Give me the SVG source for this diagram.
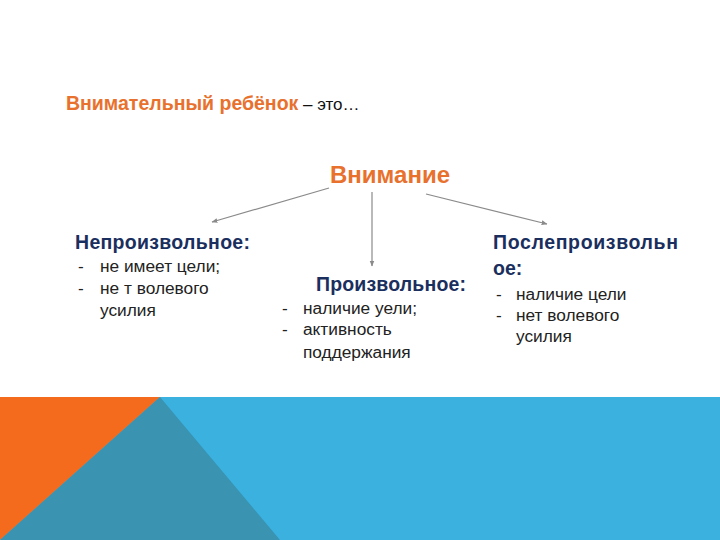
<svg xmlns="http://www.w3.org/2000/svg" width="720" height="540" viewBox="0 0 720 540">
<defs>
<style>
.t{font-family:"Liberation Sans",Arial,sans-serif}
.o{fill:#E8712D;font-weight:bold}
.h{fill:#1B2F5E;font-weight:bold;font-size:19.5px}
.l{fill:#222;font-size:17.3px}
.c{stroke:#8A8A8A;stroke-width:1.2;fill:none;marker-end:url(#a)}
</style>
<marker id="a" viewBox="0 0 10 10" refX="9" refY="5" markerWidth="6" markerHeight="6" orient="auto" markerUnits="userSpaceOnUse">
<path d="M0,1 L10,5 L0,9 Z" fill="#8A8A8A"/>
</marker>
</defs>
<rect width="720" height="540" fill="#fff"/>
<g id="band">
<rect x="0" y="397" width="720" height="143" fill="#3BB1E0"/>
<polygon points="0,397 160,397 0,540" fill="#F46B1E"/>
<polygon points="160,397 280,540 0,540" fill="#3993B1"/>
</g>
<g id="title" class="t">
<text x="66" y="110" font-size="19.5"><tspan class="o">Внимательный ребёнок</tspan><tspan fill="#111" font-size="17"> – это…</tspan></text>
</g>
<g id="root" class="t">
<text x="390" y="183" text-anchor="middle" font-size="24" class="o">Внимание</text>
</g>
<g id="connectors">
<line class="c" x1="329" y1="188" x2="212" y2="222"/>
<line class="c" x1="372" y1="192" x2="372" y2="266"/>
<line class="c" x1="426" y1="194" x2="547" y2="224"/>
</g>
<g id="involuntary" class="t">
<text x="75" y="249" class="h" textLength="175">Непроизвольное:</text>
<text x="78" y="272" class="l">-</text><text x="100" y="272" class="l">не имеет цели;</text>
<text x="78" y="294" class="l">-</text><text x="100" y="294" class="l">не т волевого</text>
<text x="100" y="316" class="l">усилия</text>
</g>
<g id="voluntary" class="t">
<text x="316" y="291" class="h" textLength="150">Произвольное:</text>
<text x="282" y="314" class="l">-</text><text x="303" y="314" class="l">наличие уели;</text>
<text x="282" y="335" class="l">-</text><text x="303" y="335" class="l">активность</text>
<text x="303" y="358" class="l">поддержания</text>
</g>
<g id="postvoluntary" class="t">
<text x="493" y="249" class="h" textLength="185">Послепроизвольн</text>
<text x="493" y="275" class="h">ое:</text>
<text x="496" y="300" class="l">-</text><text x="516" y="300" class="l">наличие цели</text>
<text x="496" y="321" class="l">-</text><text x="516" y="321" class="l">нет волевого</text>
<text x="516" y="342" class="l">усилия</text>
</g>
</svg>
